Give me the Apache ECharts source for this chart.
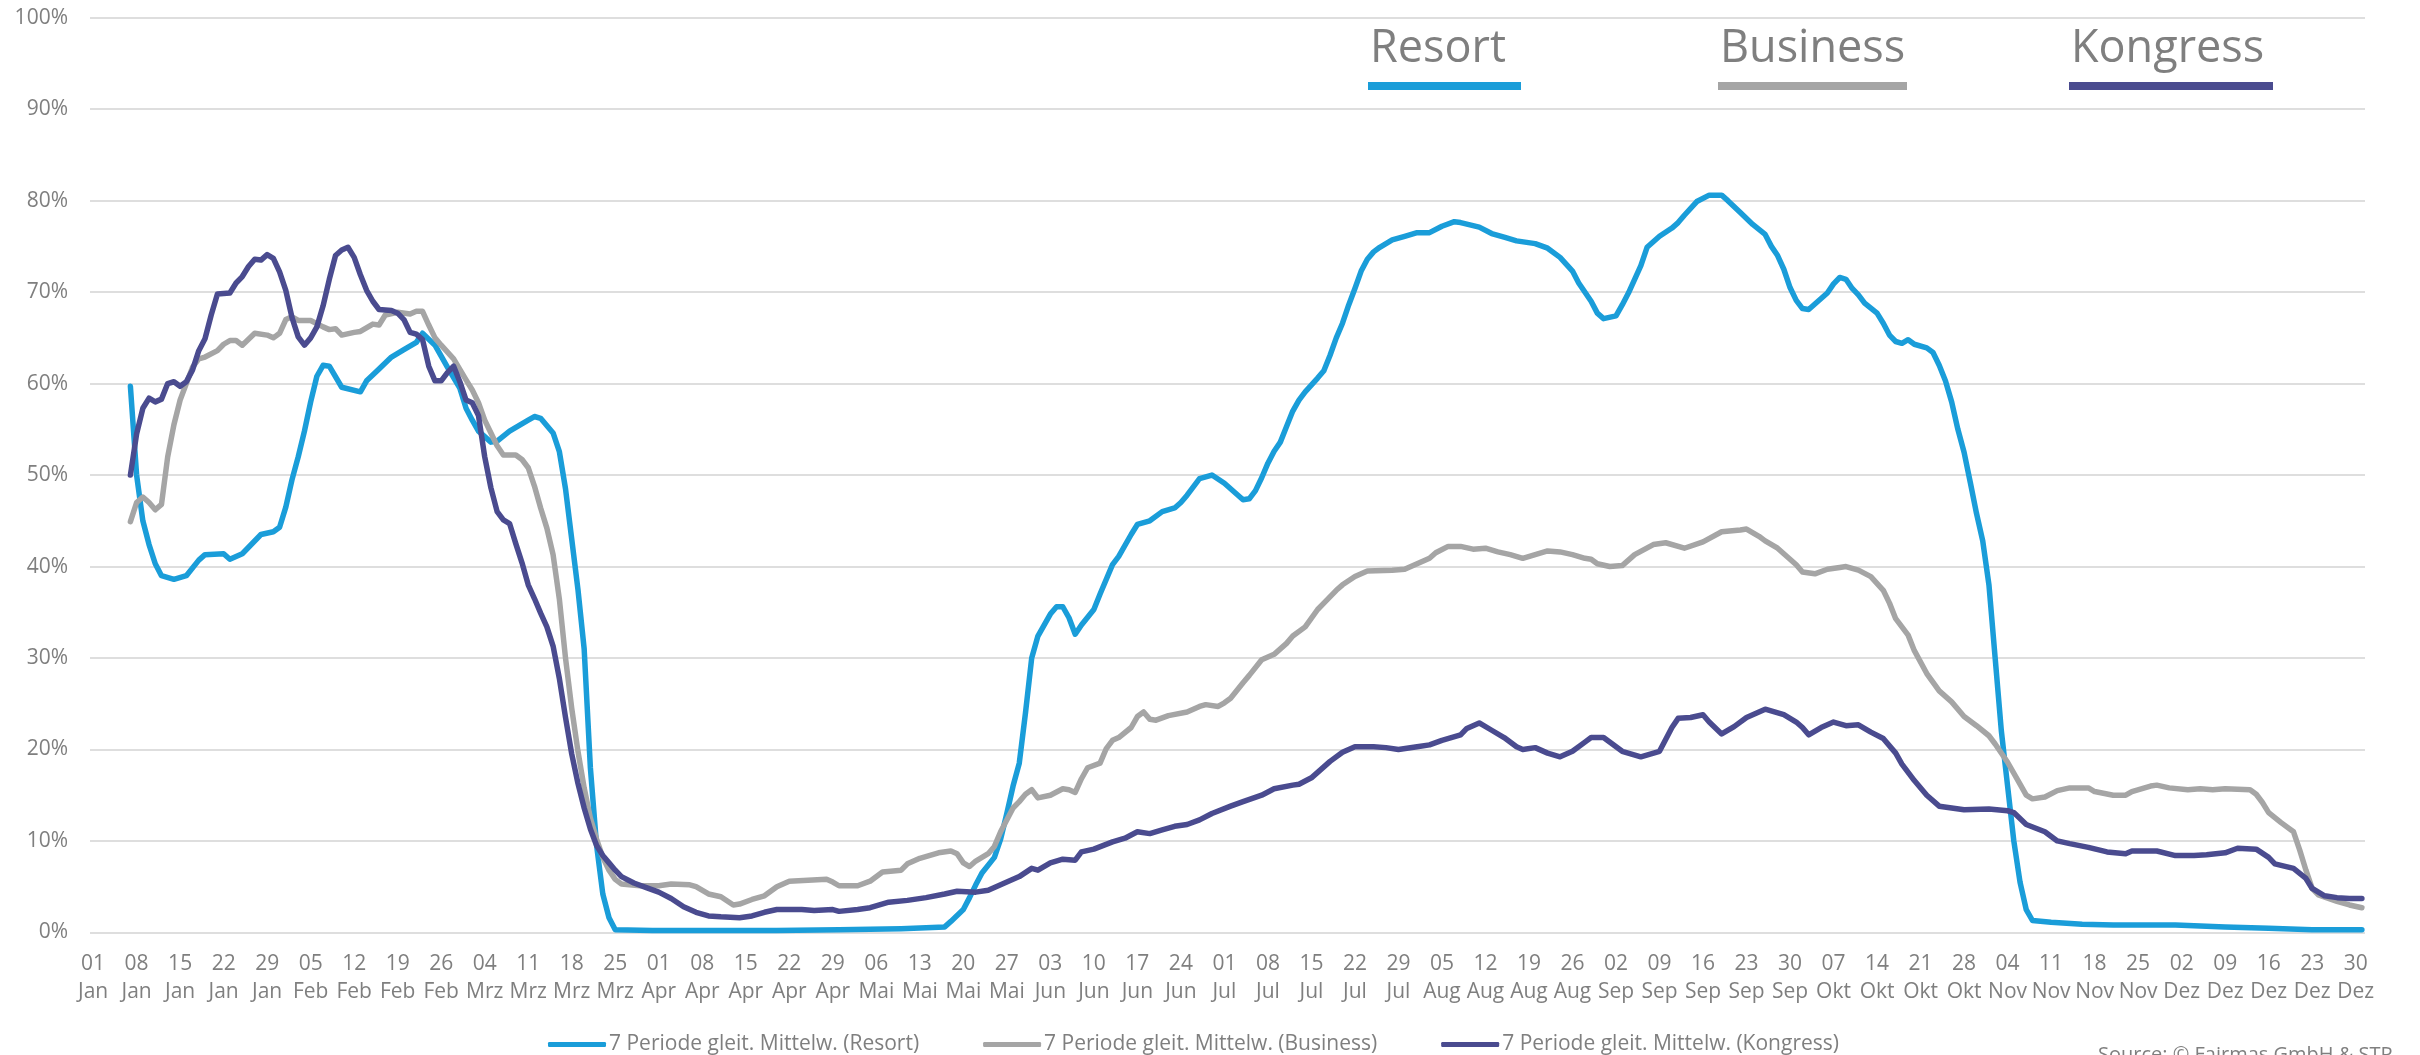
<!DOCTYPE html>
<html>
<head>
<meta charset="utf-8">
<script src="https://cdn.jsdelivr.net/npm/echarts@6/dist/echarts.min.js"></script>
<style>
  html, body { margin: 0; padding: 0; background: #fff; }
  #container { width: 2420px; height: 1055px; }
</style>
</head>
<body>
<div id="container"></div>
<script>
// Tagesachse 2020 (Schaltjahr), Beschriftung jede Woche
var year = 2020
var monthNames = ['Jan', 'Feb', 'Mrz', 'Apr', 'Mai', 'Jun', 'Jul', 'Aug', 'Sep', 'Okt', 'Nov', 'Dez']
var monthDays = [31, 29, 31, 30, 31, 30, 31, 31, 30, 31, 30, 31]

// Serien: [Tag des Jahres (0 = 01 Jan), Auslastung in %]
var resort = [
  [6, 59.7], [7, 50.0], [8, 45.0], [9, 42.4], [10, 40.3], [11, 39.0], [13, 38.6], [15, 39.0], [17, 40.7], [18, 41.3],
  [21, 41.4], [22, 40.8], [24, 41.4], [27, 43.5], [29, 43.8], [30, 44.3], [31, 46.5], [32, 49.5], [33, 52.0], [34, 54.8],
  [35, 58.0], [36, 60.8], [37, 62.0], [38, 61.9], [40, 59.6], [43, 59.1], [44, 60.3], [46, 61.6], [48, 62.9], [50, 63.7],
  [52, 64.5], [53, 65.5], [55, 64.2], [56, 63.0], [57, 61.8], [59, 59.5], [60, 57.3], [61, 56.0], [62, 54.8], [64, 53.6],
  [65, 53.7], [67, 54.8], [70, 56.0], [71, 56.4], [72, 56.2], [74, 54.6], [75, 52.6], [76, 48.5], [77, 43.0], [78, 37.5],
  [79, 31.0], [80, 18.0], [81, 9.5], [82, 4.2], [83, 1.6], [84, 0.3], [90, 0.2], [100, 0.2], [110, 0.2], [120, 0.3],
  [130, 0.4], [134, 0.5], [137, 0.6], [138, 1.2], [140, 2.5], [141, 3.8], [142, 5.2], [143, 6.5], [145, 8.2], [146, 10.2],
  [147, 13.0], [148, 16.0], [149, 18.5], [150, 24.0], [151, 30.0], [152, 32.4], [154, 34.8], [155, 35.6], [156, 35.6], [157, 34.4],
  [158, 32.6], [159, 33.6], [161, 35.3], [162, 37.0], [164, 40.2], [165, 41.1], [167, 43.5], [168, 44.6], [170, 45.0], [172, 46.0],
  [174, 46.4], [175, 47.0], [176, 47.8], [178, 49.6], [180, 50.0], [182, 49.1], [184, 47.9], [185, 47.3], [186, 47.4], [187, 48.3],
  [188, 49.7], [189, 51.3], [190, 52.6], [191, 53.6], [192, 55.3], [193, 57.0], [194, 58.2], [195, 59.1], [197, 60.6], [198, 61.4],
  [199, 63.1], [200, 65.0], [201, 66.6], [202, 68.6], [203, 70.4], [204, 72.3], [205, 73.6], [206, 74.4], [207, 74.9], [209, 75.7],
  [211, 76.1], [213, 76.5], [215, 76.5], [217, 77.2], [219, 77.7], [220, 77.6], [223, 77.1], [225, 76.4], [227, 76.0], [229, 75.6],
  [232, 75.3], [234, 74.8], [236, 73.8], [238, 72.3], [239, 71.0], [241, 69.0], [242, 67.7], [243, 67.1], [245, 67.4], [246, 68.6],
  [247, 69.9], [248, 71.4], [249, 72.9], [250, 74.9], [252, 76.1], [254, 77.0], [255, 77.6], [256, 78.4], [258, 79.9], [260, 80.6],
  [262, 80.6], [263, 80.0], [265, 78.7], [267, 77.4], [269, 76.3], [270, 75.0], [271, 74.0], [272, 72.5], [273, 70.5], [274, 69.1],
  [275, 68.2], [276, 68.1], [278, 69.3], [279, 69.9], [280, 70.9], [281, 71.6], [282, 71.4], [283, 70.4], [284, 69.7], [285, 68.8],
  [287, 67.7], [288, 66.6], [289, 65.3], [290, 64.6], [291, 64.4], [292, 64.8], [293, 64.3], [295, 63.9], [296, 63.4], [297, 62.0],
  [298, 60.3], [299, 58.0], [300, 55.0], [301, 52.5], [302, 49.2], [303, 45.8], [304, 42.8], [305, 38.0], [306, 30.0], [307, 22.0],
  [308, 16.0], [309, 10.0], [310, 5.5], [311, 2.5], [312, 1.3], [315, 1.1], [320, 0.9], [325, 0.8], [335, 0.8], [343, 0.6],
  [350, 0.45], [357, 0.3], [365, 0.3]
]
var business = [
  [6, 44.9], [7, 47.0], [8, 47.6], [9, 47.0], [10, 46.2], [11, 46.8], [12, 52.0], [13, 55.5], [14, 58.2], [15, 60.0],
  [16, 61.8], [17, 62.7], [18, 62.9], [20, 63.6], [21, 64.3], [22, 64.7], [23, 64.7], [24, 64.2], [26, 65.5], [28, 65.3],
  [29, 65.0], [30, 65.5], [31, 67.0], [32, 67.3], [33, 66.9], [35, 66.9], [37, 66.2], [38, 65.9], [39, 66.0], [40, 65.3],
  [42, 65.6], [43, 65.7], [45, 66.5], [46, 66.4], [47, 67.5], [49, 67.8], [51, 67.6], [52, 67.9], [53, 67.9], [54, 66.4],
  [55, 65.0], [56, 64.2], [58, 62.7], [60, 60.4], [61, 59.3], [62, 57.9], [63, 56.0], [64, 54.6], [65, 53.2], [66, 52.2],
  [68, 52.2], [69, 51.7], [70, 50.8], [71, 48.8], [72, 46.4], [73, 44.2], [74, 41.3], [75, 36.5], [76, 30.0], [77, 24.5],
  [78, 19.8], [79, 15.8], [80, 12.5], [81, 10.2], [82, 8.2], [83, 6.8], [84, 5.8], [85, 5.3], [88, 5.1], [91, 5.1],
  [93, 5.3], [96, 5.2], [97, 5.0], [99, 4.2], [101, 3.9], [103, 3.0], [104, 3.1], [106, 3.6], [108, 4.0], [110, 5.0],
  [112, 5.6], [115, 5.7], [118, 5.8], [119, 5.5], [120, 5.1], [123, 5.1], [125, 5.6], [127, 6.6], [130, 6.8], [131, 7.5],
  [133, 8.1], [136, 8.7], [138, 8.9], [139, 8.6], [140, 7.6], [141, 7.2], [142, 7.8], [144, 8.6], [145, 9.4], [146, 11.0],
  [148, 13.6], [149, 14.3], [150, 15.1], [151, 15.6], [152, 14.7], [154, 15.0], [156, 15.7], [157, 15.6], [158, 15.3], [159, 16.8],
  [160, 18.0], [162, 18.5], [163, 20.1], [164, 21.0], [165, 21.3], [167, 22.4], [168, 23.6], [169, 24.1], [170, 23.3], [171, 23.2],
  [173, 23.7], [176, 24.1], [178, 24.7], [179, 24.9], [181, 24.7], [182, 25.1], [183, 25.6], [185, 27.3], [186, 28.1], [188, 29.8],
  [190, 30.4], [192, 31.6], [193, 32.4], [195, 33.4], [197, 35.3], [198, 36.0], [200, 37.4], [201, 38.0], [203, 38.9], [205, 39.5],
  [209, 39.6], [211, 39.7], [213, 40.3], [215, 40.9], [216, 41.5], [218, 42.2], [220, 42.2], [222, 41.9], [224, 42.0], [226, 41.6],
  [228, 41.3], [230, 40.9], [232, 41.3], [234, 41.7], [236, 41.6], [238, 41.3], [240, 40.9], [241, 40.8], [242, 40.3], [244, 40.0],
  [246, 40.1], [248, 41.3], [251, 42.4], [253, 42.6], [256, 42.0], [259, 42.7], [262, 43.8], [265, 44.0], [266, 44.1], [268, 43.3],
  [269, 42.8], [271, 42.0], [272, 41.4], [274, 40.2], [275, 39.4], [277, 39.2], [279, 39.7], [281, 39.9], [282, 40.0], [284, 39.6],
  [286, 38.9], [288, 37.4], [289, 36.0], [290, 34.3], [292, 32.5], [293, 30.8], [295, 28.3], [297, 26.4], [299, 25.2], [301, 23.6],
  [303, 22.6], [305, 21.5], [306, 20.6], [308, 18.6], [310, 16.2], [311, 15.0], [312, 14.6], [314, 14.8], [316, 15.5], [318, 15.8],
  [321, 15.8], [322, 15.4], [325, 15.0], [327, 15.0], [328, 15.4], [331, 16.0], [332, 16.1], [334, 15.8], [337, 15.6], [339, 15.7],
  [341, 15.6], [343, 15.7], [347, 15.6], [348, 15.1], [349, 14.2], [350, 13.1], [352, 12.0], [354, 11.0], [355, 9.0], [356, 6.8],
  [357, 4.8], [358, 4.1], [361, 3.4], [363, 3.0], [365, 2.7]
]
var kongress = [
  [6, 50.0], [7, 54.5], [8, 57.3], [9, 58.4], [10, 58.0], [11, 58.3], [12, 60.0], [13, 60.2], [14, 59.7], [15, 60.2],
  [16, 61.5], [17, 63.6], [18, 64.9], [19, 67.5], [20, 69.8], [22, 69.9], [23, 71.0], [24, 71.7], [25, 72.8], [26, 73.6],
  [27, 73.5], [28, 74.1], [29, 73.7], [30, 72.2], [31, 70.2], [32, 67.2], [33, 65.1], [34, 64.2], [35, 65.0], [36, 66.2],
  [37, 68.5], [38, 71.4], [39, 74.0], [40, 74.6], [41, 74.9], [42, 73.8], [43, 71.9], [44, 70.2], [45, 69.0], [46, 68.1],
  [48, 68.0], [49, 67.7], [50, 67.0], [51, 65.6], [52, 65.4], [53, 64.8], [54, 61.9], [55, 60.3], [56, 60.3], [57, 61.2],
  [58, 61.9], [59, 60.2], [60, 58.2], [61, 57.9], [62, 56.5], [63, 52.0], [64, 48.6], [65, 46.0], [66, 45.1], [67, 44.7],
  [68, 42.5], [69, 40.4], [70, 38.0], [71, 36.5], [72, 34.9], [73, 33.4], [74, 31.3], [75, 27.8], [76, 23.5], [77, 19.5],
  [78, 16.3], [79, 13.6], [80, 11.3], [81, 9.5], [82, 8.4], [83, 7.6], [84, 6.8], [85, 6.1], [87, 5.4], [89, 4.9],
  [91, 4.4], [93, 3.7], [95, 2.8], [97, 2.2], [99, 1.8], [101, 1.7], [104, 1.6], [106, 1.8], [108, 2.2], [110, 2.5],
  [114, 2.5], [116, 2.4], [119, 2.5], [120, 2.3], [123, 2.5], [125, 2.7], [128, 3.3], [131, 3.5], [134, 3.8], [137, 4.2],
  [139, 4.5], [142, 4.4], [144, 4.6], [146, 5.2], [149, 6.1], [151, 7.0], [152, 6.8], [154, 7.6], [156, 8.0], [158, 7.9],
  [159, 8.8], [161, 9.1], [164, 9.9], [166, 10.3], [168, 11.0], [170, 10.8], [172, 11.2], [174, 11.6], [176, 11.8], [178, 12.3],
  [180, 13.0], [183, 13.8], [185, 14.3], [188, 15.0], [190, 15.7], [193, 16.1], [194, 16.2], [196, 16.9], [199, 18.7], [201, 19.7],
  [203, 20.3], [206, 20.3], [208, 20.2], [210, 20.0], [213, 20.3], [215, 20.5], [217, 21.0], [220, 21.6], [221, 22.3], [223, 22.9],
  [225, 22.1], [227, 21.3], [229, 20.3], [230, 20.0], [232, 20.2], [234, 19.6], [236, 19.2], [238, 19.8], [240, 20.8], [241, 21.3],
  [243, 21.3], [246, 19.8], [249, 19.2], [252, 19.8], [254, 22.4], [255, 23.4], [257, 23.5], [259, 23.8], [260, 23.0], [262, 21.7],
  [264, 22.5], [266, 23.5], [269, 24.4], [272, 23.8], [274, 23.0], [275, 22.4], [276, 21.6], [278, 22.4], [280, 23.0], [282, 22.6],
  [284, 22.7], [286, 21.9], [288, 21.2], [290, 19.6], [291, 18.4], [293, 16.6], [295, 15.0], [297, 13.8], [299, 13.6], [301, 13.4],
  [305, 13.5], [308, 13.3], [309, 13.1], [311, 11.8], [314, 11.0], [316, 10.0], [318, 9.7], [321, 9.3], [324, 8.8], [327, 8.6],
  [328, 8.9], [332, 8.9], [335, 8.4], [338, 8.4], [340, 8.5], [343, 8.7], [345, 9.2], [348, 9.1], [350, 8.2], [351, 7.5],
  [354, 7.0], [356, 5.9], [357, 4.8], [359, 4.0], [361, 3.8], [363, 3.7], [365, 3.7]
]

var seriesNames = ['7 Periode gleit. Mittelw. (Resort)', '7 Periode gleit. Mittelw. (Business)', '7 Periode gleit. Mittelw. (Kongress)']
var shortNames = ['Resort', 'Business', 'Kongress']
var colors = ['#1a9dd9', '#a5a5a5', '#4a4b8f']

//Kategorien: jeder Tag des Jahres als "TT\nMon"
var days = []
for (var m = 0; m < 12; m++) {
  for (var d = 1; d <= monthDays[m]; d++) {
    days.push((d < 10 ? '0' + d : '' + d) + '\n' + monthNames[m])
  }
}

var dom = document.getElementById('container')
var myChart = echarts.init(dom, null, { renderer: 'canvas' })
var font = 'Open Sans'
var grey = '#7f7f7f'

// obere Legende (Text + Farbbalken)
var topLegendX = [1368, 1718, 2069]
var topBarW = [153, 189, 204]
var graphics = []
for (var i = 0; i < 3; i++) {
  graphics.push({
    type: 'text', left: topLegendX[i] + 2, top: 27,
    style: { text: shortNames[i], fill: grey, font: '45px "' + font + '"' }
  })
  graphics.push({
    type: 'rect', left: topLegendX[i], top: 82,
    shape: { width: topBarW[i], height: 8 },
    style: { fill: colors[i] }
  })
}
graphics.push({
  type: 'text', left: 2098, top: 1045,
  style: { text: 'Source: © Fairmas GmbH & STR', fill: grey, font: '20px "' + font + '"' }
})

var data = [resort, business, kongress]
var series = []
for (var s = 0; s < 3; s++) {
  series.push({
    name: seriesNames[s],
    type: 'line',
    data: data[s],
    showSymbol: false,
    symbol: 'none',
    color: colors[s],
    lineStyle: { width: 5.5, color: colors[s], cap: 'round', join: 'round' },
    animation: false
  })
}

option = {
  animation: false,
  textStyle: { fontFamily: font },
  grid: { left: 90, right: 55, top: 17.7, bottom: 122.6, containLabel: false },
  legend: {
    bottom: 'auto', top: 1029, left: 543,
    icon: 'roundRect', itemWidth: 58, itemHeight: 5, itemGap: 64,
    textStyle: { color: grey, fontSize: 21, fontFamily: font, padding: [0, 0, 0, -2] },
    data: seriesNames
  },
  xAxis: {
    type: 'category',
    data: days,
    boundaryGap: true,
    axisLine: { show: false },
    axisTick: { show: false },
    axisLabel: {
      interval: 6, color: grey, fontSize: 21, lineHeight: 28, margin: 18,
      fontFamily: font
    },
    splitLine: { show: false }
  },
  yAxis: {
    type: 'value',
    min: 0, max: 100, interval: 10,
    axisLine: { show: false },
    axisTick: { show: false },
    axisLabel: { formatter: '{value}%', color: grey, fontSize: 21, margin: 22, fontFamily: font },
    splitLine: { lineStyle: { color: '#dedede', width: 2 } }
  },
  graphic: graphics,
  series: series
}

myChart.setOption(option)
</script>
</body>
</html>
